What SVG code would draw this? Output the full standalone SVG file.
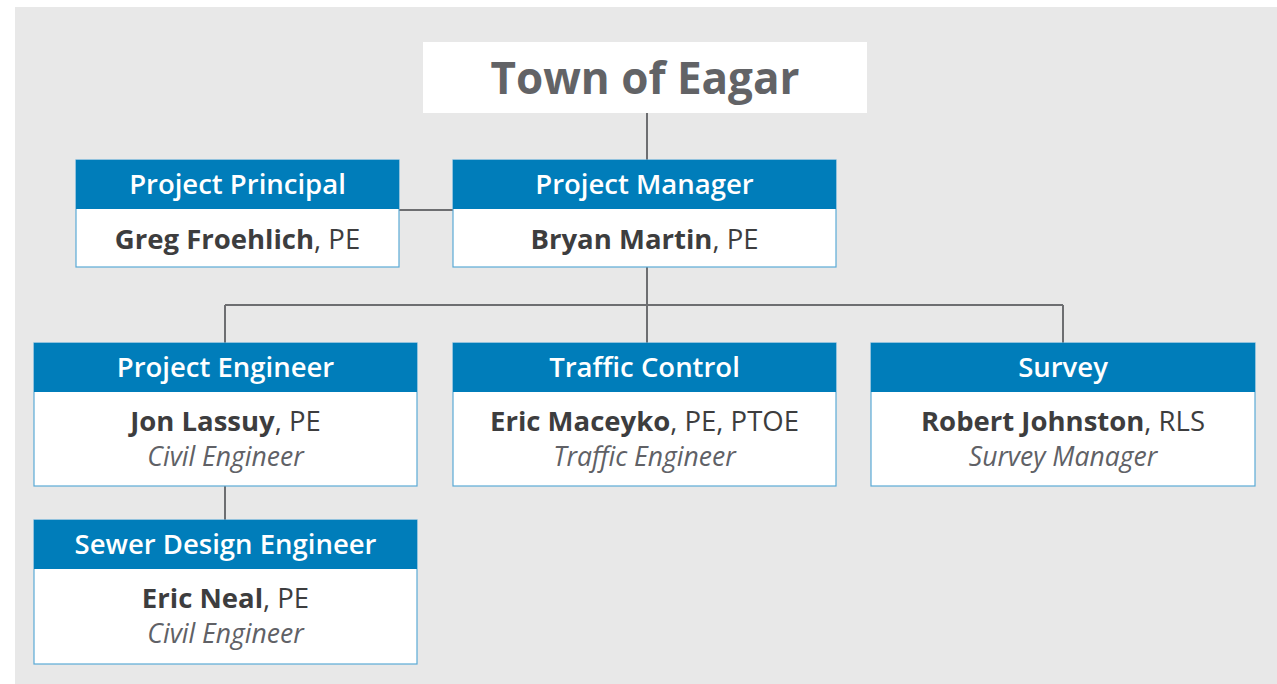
<svg xmlns="http://www.w3.org/2000/svg" width="1277" height="684" viewBox="0 0 1277 684">
<style>
.hdr{fill:#007dba}
.body{fill:#ffffff;stroke:#5aaad6;stroke-width:1.2}
.ht{font-family:"Open Sans","Liberation Sans",sans-serif;font-size:27.5px;font-weight:600;fill:#ffffff;text-anchor:middle}
.nm{font-family:"Open Sans","Liberation Sans",sans-serif;font-size:27.5px;fill:#3d3d3e;text-anchor:middle}
.b{font-weight:700}
.it{font-family:"Open Sans","Liberation Sans",sans-serif;font-size:26.5px;font-style:italic;fill:#606166;text-anchor:middle}
.con{stroke:#6d6e71;stroke-width:2;fill:none}
</style>
<rect x="15" y="7" width="1262" height="677" fill="#e8e8e8"/>
<g id="connectors">
<path class="con" d="M647 113V160"/>
<path class="con" d="M399 210H453"/>
<path class="con" d="M647 267V343"/>
<path class="con" d="M225 305H1063"/>
<path class="con" d="M225 305V343"/>
<path class="con" d="M1063 305V343"/>
<path class="con" d="M225 486V520"/>
</g>
<g id="town">
<rect x="423" y="42" width="444" height="71" fill="#ffffff"/>
<text x="645" y="94" font-family="Open Sans, Liberation Sans, sans-serif" font-size="44" font-weight="700" fill="#626366" text-anchor="middle">Town of Eagar</text>
</g>
<g id="principal">
<rect class="body" x="76" y="160" width="323" height="107"/>
<rect class="hdr" x="76" y="160" width="323" height="49"/>
<text class="ht" x="237.5" y="194">Project Principal</text>
<text class="nm" x="237.5" y="249"><tspan class="b">Greg Froehlich</tspan>, PE</text>
</g>
<g id="manager">
<rect class="body" x="453" y="160" width="383" height="107"/>
<rect class="hdr" x="453" y="160" width="383" height="49"/>
<text class="ht" x="644.5" y="194">Project Manager</text>
<text class="nm" x="644.5" y="249"><tspan class="b">Bryan Martin</tspan>, PE</text>
</g>
<g id="engineer">
<rect class="body" x="34" y="343" width="383" height="143"/>
<rect class="hdr" x="34" y="343" width="383" height="49"/>
<text class="ht" x="225.5" y="377">Project Engineer</text>
<text class="nm" x="225.5" y="431"><tspan class="b">Jon Lassuy</tspan>, PE</text>
<text class="it" x="225.5" y="466">Civil Engineer</text>
</g>
<g id="traffic">
<rect class="body" x="453" y="343" width="383" height="143"/>
<rect class="hdr" x="453" y="343" width="383" height="49"/>
<text class="ht" x="644.5" y="377">Traffic Control</text>
<text class="nm" x="644.5" y="431"><tspan class="b">Eric Maceyko</tspan>, PE, PTOE</text>
<text class="it" x="644.5" y="466">Traffic Engineer</text>
</g>
<g id="survey">
<rect class="body" x="871" y="343" width="384" height="143"/>
<rect class="hdr" x="871" y="343" width="384" height="49"/>
<text class="ht" x="1063" y="377">Survey</text>
<text class="nm" x="1063" y="431"><tspan class="b">Robert Johnston</tspan>, RLS</text>
<text class="it" x="1063" y="466">Survey Manager</text>
</g>
<g id="sewer">
<rect class="body" x="34" y="520" width="383" height="144"/>
<rect class="hdr" x="34" y="520" width="383" height="49"/>
<text class="ht" x="225.5" y="554">Sewer Design Engineer</text>
<text class="nm" x="225.5" y="608"><tspan class="b">Eric Neal</tspan>, PE</text>
<text class="it" x="225.5" y="643">Civil Engineer</text>
</g>
</svg>
